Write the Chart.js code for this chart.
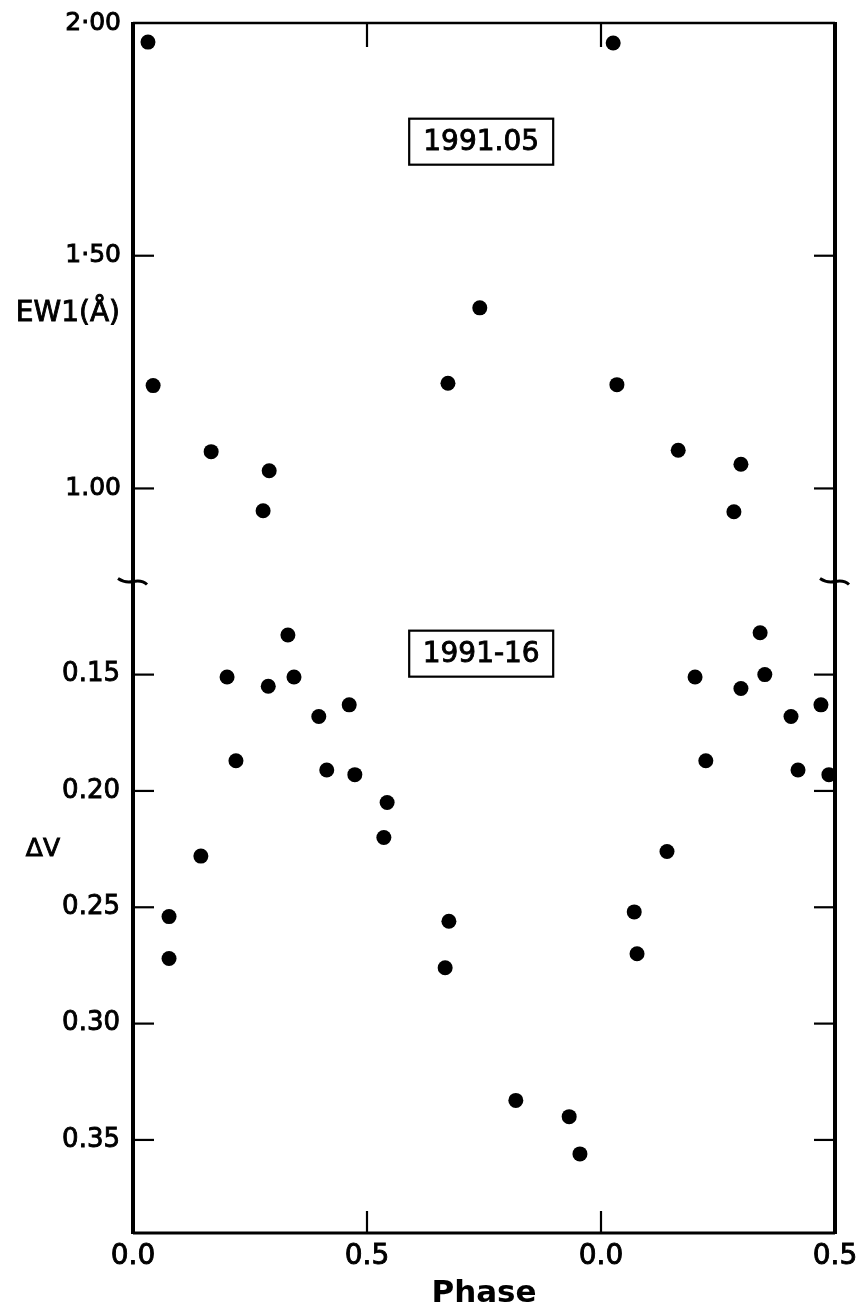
<!DOCTYPE html>
<html>
<head>
<meta charset="utf-8">
<title>EW1 and ΔV against phase</title>
<script src="https://cdn.jsdelivr.net/npm/chart.js@4.4.1/dist/chart.umd.min.js"></script>
<style>
  html, body { margin: 0; padding: 0; background: #fff; }
  #plot-wrap { width: 858px; height: 1313px; }
</style>
</head>
<body>
<div id="plot-wrap"><canvas id="phase-plot" width="858" height="1313"></canvas></div>
<script>
// equivalent width of line 1 (upper panel), phase runs over 1.5 cycles
const ewPhase = [0.032, 0.043, 0.167, 0.278, 0.291, 0.673, 0.741, 1.026, 1.034, 1.165, 1.284, 1.299];
const ewValues = [1.959, 1.221, 1.079, 0.952, 1.038, 1.226, 1.388, 1.957, 1.223, 1.082, 0.950, 1.052];

// differential V magnitude (lower panel)
const dvPhase = [
  0.077, 0.077, 0.145, 0.201, 0.220, 0.289, 0.331, 0.344, 0.397, 0.414,
  0.462, 0.474, 0.536, 0.543, 0.667, 0.675, 0.818, 0.932, 0.955,
  1.071, 1.077, 1.141, 1.201, 1.224, 1.299, 1.340, 1.350, 1.406, 1.421,
  1.470, 1.487
];
const dvValues = [
  0.254, 0.272, 0.228, 0.151, 0.187, 0.155, 0.133, 0.151, 0.168, 0.191,
  0.163, 0.193, 0.220, 0.205, 0.276, 0.256, 0.333, 0.340, 0.356,
  0.252, 0.270, 0.226, 0.151, 0.187, 0.156, 0.132, 0.150, 0.168, 0.191,
  0.163, 0.193
];

const phaseTicks = [0, 0.5, 1.0, 1.5];
const phaseTickLabels = ["0.0", "0.5", "0.0", "0.5"];
const ewTicks = [1.0, 1.5, 2.0];
const ewTickLabels = ["1.00", "1·50", "2·00"];
const dvTicks = [0.15, 0.20, 0.25, 0.30, 0.35];
const dvTickLabels = ["0.15", "0.20", "0.25", "0.30", "0.35"];
const epochLabels = ["1991.05", "1991-16"];

const FONT = "DejaVu Sans";

function toPoints(xs, ys) {
  return xs.map((x, i) => ({ x: x, y: ys[i] }));
}

function drawLine(ctx, x1, y1, x2, y2) {
  ctx.beginPath();
  ctx.moveTo(x1, y1);
  ctx.lineTo(x2, y2);
  ctx.stroke();
}

// inked-looking text: fill plus a thin outline
function heavyText(ctx, text, x, y) {
  ctx.lineWidth = 0.9;
  ctx.fillText(text, x, y);
  ctx.strokeText(text, x, y);
}

// little wavy stroke where the two y ranges meet
function breakMark(ctx, cx, cy) {
  ctx.beginPath();
  ctx.moveTo(cx - 15, cy - 3);
  ctx.bezierCurveTo(cx - 9, cy + 1, cx - 4, cy + 1, cx, cy);
  ctx.bezierCurveTo(cx + 5, cy - 1, cx + 10, cy - 1, cx + 14, cy + 3);
  ctx.stroke();
}

function boxedLabel(ctx, text, cx, cy) {
  ctx.lineWidth = 2.2;
  ctx.strokeRect(cx - 72, cy - 23, 144, 46);
  ctx.font = "28px '" + FONT + "'";
  ctx.textAlign = "center";
  ctx.textBaseline = "middle";
  heavyText(ctx, text, cx, cy + 1);
}

// y scales: fixed width, no extra room for half labels
function fixYBox(s) {
  s.width = 133;
  s.paddingTop = 0;
  s.paddingBottom = 0;
}

const framePlugin = {
  id: "panelFrame",
  afterDraw(chart) {
    const { ctx, chartArea: area, scales } = chart;
    const xs = scales.x, ew = scales.ew, dv = scales.dv;
    ctx.save();
    ctx.strokeStyle = "#000";
    ctx.fillStyle = "#000";

    // frame
    ctx.lineWidth = 4;
    drawLine(ctx, area.left, area.top - 1, area.left, area.bottom + 1);
    drawLine(ctx, area.right, area.top - 1, area.right, area.bottom + 1);
    ctx.lineWidth = 2.5;
    drawLine(ctx, area.left, area.top, area.right, area.top);
    ctx.lineWidth = 3;
    drawLine(ctx, area.left, area.bottom, area.right, area.bottom);

    // inward tick marks on both vertical edges
    ctx.lineWidth = 2.2;
    ewTicks.forEach(v => {
      if (v >= ew.max) return;
      const y = ew.getPixelForValue(v);
      drawLine(ctx, area.left, y, area.left + 21, y);
      drawLine(ctx, area.right - 21, y, area.right, y);
    });
    dvTicks.forEach(v => {
      const y = dv.getPixelForValue(v);
      drawLine(ctx, area.left, y, area.left + 21, y);
      drawLine(ctx, area.right - 21, y, area.right, y);
    });

    // phase ticks on top and bottom edges
    phaseTicks.filter(v => v > xs.min && v < xs.max).forEach(v => {
      const x = xs.getPixelForValue(v);
      drawLine(ctx, x, area.top, x, area.top + 24);
      drawLine(ctx, x, area.bottom, x, area.bottom - 22);
    });

    // axis break between the two panels
    ctx.lineWidth = 3;
    breakMark(ctx, area.left, ew.bottom);
    breakMark(ctx, area.right, ew.bottom);

    // y labels, written horizontally beside the axis
    ctx.textAlign = "right";
    ctx.textBaseline = "middle";
    ctx.font = "28px '" + FONT + "'";
    heavyText(ctx, "EW1(Å)", area.left - 13, ew.getPixelForValue(1.375));
    ctx.font = "25px '" + FONT + "'";
    heavyText(ctx, "ΔV", area.left - 73, dv.getPixelForValue(0.225));

    // epoch boxes
    boxedLabel(ctx, epochLabels[0], xs.getPixelForValue(0.744), ew.getPixelForValue(1.745));
    boxedLabel(ctx, epochLabels[1], xs.getPixelForValue(0.744), dv.getPixelForValue(0.141));

    ctx.restore();
  }
};

const canvas = document.getElementById("phase-plot");

const tickStyle = (size, pad) => ({
  padding: pad,
  color: "#000",
  textStrokeColor: "#000",
  textStrokeWidth: 0.9,
  font: { family: FONT, size: size }
});

new Chart(canvas, {
  type: "scatter",
  data: {
    datasets: [
      {
        label: "EW1",
        data: toPoints(ewPhase, ewValues),
        yAxisID: "ew",
        backgroundColor: "#000",
        borderWidth: 0,
        pointRadius: 7.5,
        pointHoverRadius: 7.5
      },
      {
        label: "ΔV",
        data: toPoints(dvPhase, dvValues),
        yAxisID: "dv",
        backgroundColor: "#000",
        borderWidth: 0,
        pointRadius: 7.5,
        pointHoverRadius: 7.5
      }
    ]
  },
  options: {
    responsive: false,
    animation: false,
    devicePixelRatio: 1,
    layout: { padding: { top: 23, right: 23, left: 0, bottom: 0 } },
    plugins: {
      legend: { display: false },
      tooltip: { enabled: false }
    },
    scales: {
      x: {
        type: "linear",
        position: "bottom",
        min: 0,
        max: 1.5,
        afterBuildTicks: s => { s.ticks = phaseTicks.map(value => ({ value })); },
        afterFit: s => {
          s.height = 80;
          s.paddingLeft = 0;
          s.paddingRight = 0;
        },
        grid: { display: false, drawTicks: false },
        border: { display: false },
        ticks: Object.assign(tickStyle(28, 7), {
          autoSkip: false,
          maxRotation: 0,
          callback: v => phaseTickLabels[phaseTicks.indexOf(v)]
        }),
        title: {
          display: true,
          text: "Phase",
          color: "#000",
          font: { family: FONT, size: 31, weight: "bold" },
          padding: { top: 0, bottom: 0 }
        }
      },
      ew: {
        type: "linear",
        position: "left",
        stack: "panels",
        stackWeight: 559,
        weight: 1,
        min: 0.8,
        max: 2.0,
        afterBuildTicks: s => { s.ticks = ewTicks.map(value => ({ value })); },
        afterFit: fixYBox,
        grid: { display: false, drawTicks: false },
        border: { display: false },
        ticks: Object.assign(tickStyle(25, 12), {
          callback: v => ewTickLabels[ewTicks.indexOf(v)]
        })
      },
      dv: {
        type: "linear",
        position: "left",
        stack: "panels",
        stackWeight: 652,
        weight: 0,
        reverse: true,
        min: 0.11,
        max: 0.39,
        afterBuildTicks: s => { s.ticks = dvTicks.map(value => ({ value })); },
        afterFit: fixYBox,
        grid: { display: false, drawTicks: false },
        border: { display: false },
        ticks: Object.assign(tickStyle(26, 13), {
          callback: v => dvTickLabels[dvTicks.indexOf(v)]
        })
      }
    }
  },
  plugins: [framePlugin]
});
</script>
</body>
</html>
